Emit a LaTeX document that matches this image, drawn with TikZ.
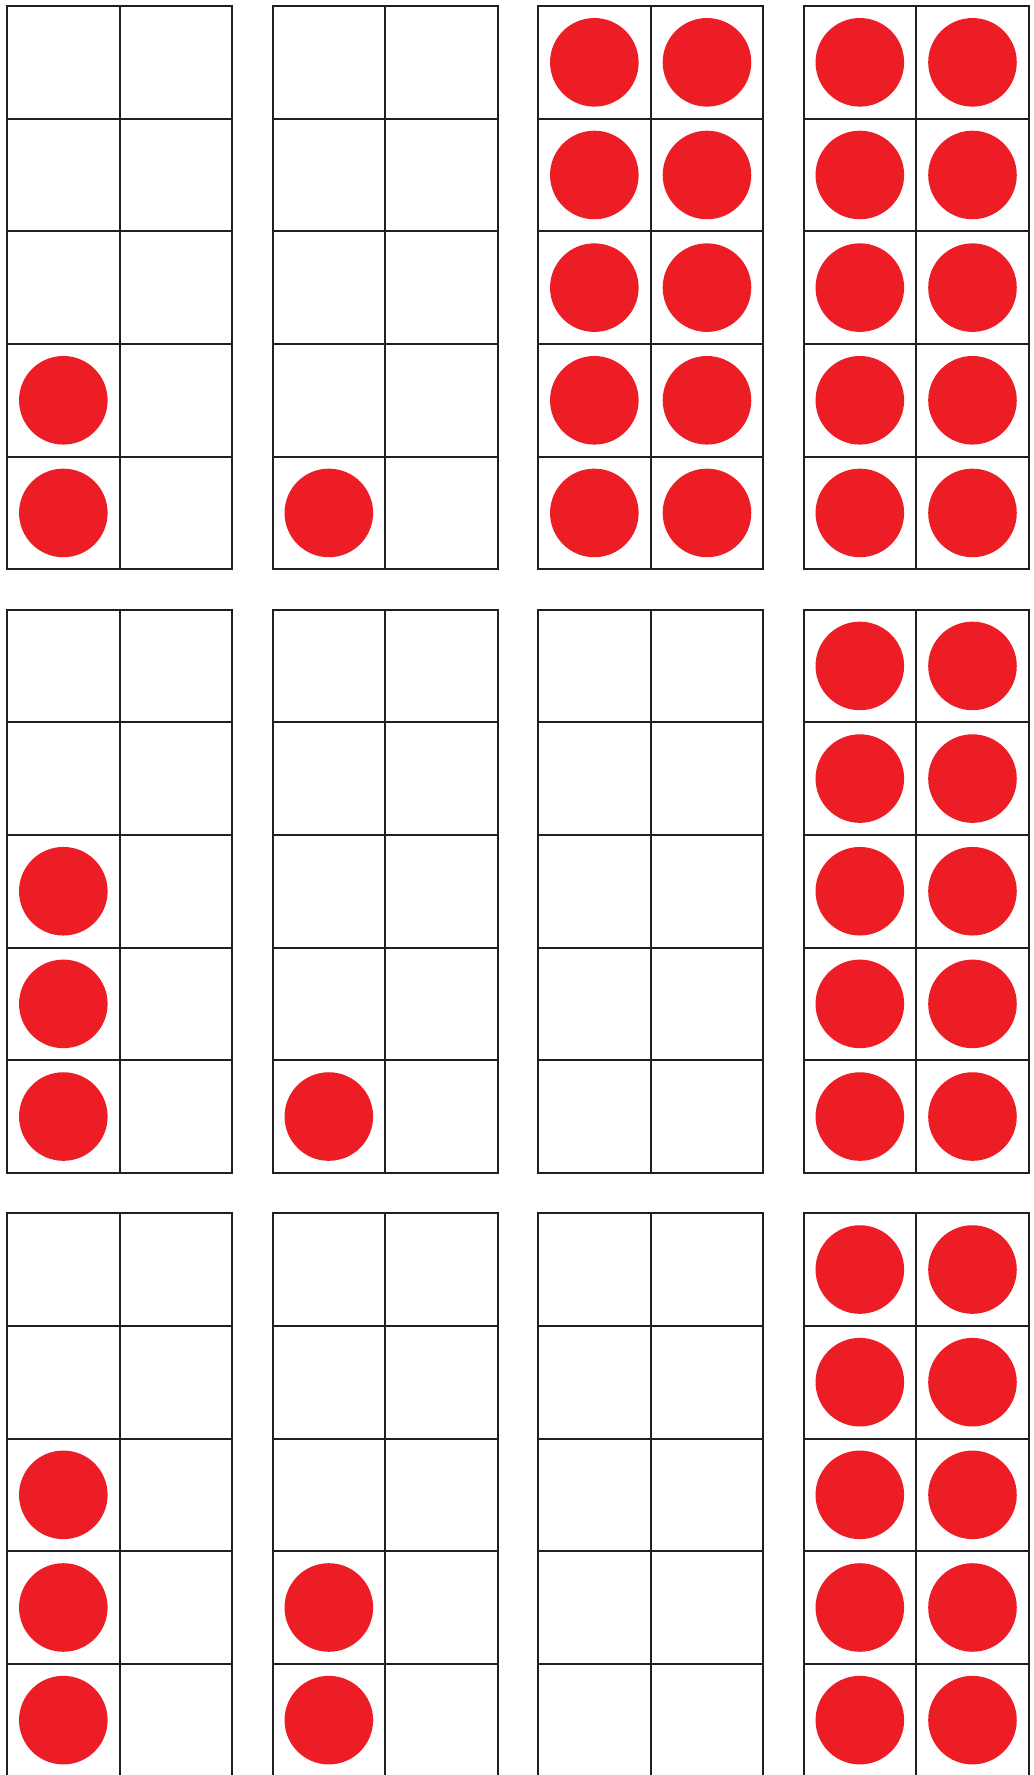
\documentclass[tikz,border=0pt]{standalone}
\definecolor{dotred}{RGB}{237,29,37}
\definecolor{gridline}{RGB}{35,31,32}
\begin{document}
\begin{tikzpicture}[
    x=0.02cm, y=-0.02cm,
    frameline/.style={draw=gridline, line width=0.04cm},
    counter/.style={fill=dotred},
  ]
    %% layout in pixel units of the page (y runs downward)
    \def\cell{112.65}   % size of one cell
    \def\xpitch{265.5}  % frame to frame, across
    \def\ypitch{603.6}  % frame to frame, down
    \def\dotr{0.886cm}  % counter radius

    \useasboundingbox (0,0) rectangle (1034,1775);

    %% --- frames: column/row/how many counters ---
    \foreach \gx/\gy/\n in {0/0/2, 1/0/1, 2/0/10, 3/0/10,
                            0/1/3, 1/1/1, 2/1/0,  3/1/10,
                            0/2/3, 1/2/2, 2/2/0,  3/2/10} {
      \pgfmathsetmacro\xo{7+\xpitch*\gx}
      \pgfmathsetmacro\yo{6+\ypitch*\gy}

      %% counters fill the left column from the bottom first
      \foreach \k in {1,...,10} {
        \ifnum\k>\n\else
          \pgfmathsetmacro\cx{\xo+\cell*(0.5+int((\k-1)/5))}
          \pgfmathsetmacro\cy{\yo+\cell*(4.5-mod(\k-1,5))}
          \fill[counter] (\cx,\cy) circle[radius=\dotr];
        \fi
      }

      %% outline and cell lines
      \draw[frameline] (\xo,\yo) rectangle ({\xo+2*\cell},{\yo+5*\cell});
      \draw[frameline] ({\xo+\cell},\yo) -- ({\xo+\cell},{\yo+5*\cell});
      \foreach \r in {1,...,4}
        \draw[frameline] (\xo,{\yo+\r*\cell}) -- ({\xo+2*\cell},{\yo+\r*\cell});
    }
  \end{tikzpicture}
\end{document}
